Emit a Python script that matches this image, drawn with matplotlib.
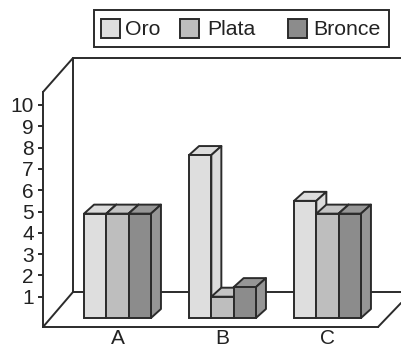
import matplotlib
matplotlib.use('Agg')
import matplotlib.pyplot as plt
from matplotlib.patches import Polygon, Rectangle

plt.rcParams['font.family'] = ['Liberation Sans', 'DejaVu Sans']

# Datos
categorias = ['A', 'B', 'C']
series = ['Oro', 'Plata', 'Bronce']
oro = [4.9, 7.65, 5.5]
plata = [4.9, 1.0, 4.9]
bronce = [4.9, 1.45, 4.9]
marcas_y = [1, 2, 3, 4, 5, 6, 7, 8, 9, 10]

# Colores
colores = ['#dedede', '#bebebe', '#8c8c8c']
laterales = ['#dcdcdc', '#c4c4c4', '#969696']
borde = '#2b2b2b'
lw = 1.4

ANCHO, ALTO = 401, 347
# Escala: pixeles de la imagen <-> unidades de datos
X0, PX_GRUPO = 117.5, 105.0
Y0, PX_UNIDAD = 318.0, 21.3


def dx(px):
    return (px - X0) / PX_GRUPO


def dy(py):
    return (Y0 - py) / PX_UNIDAD


fig = plt.figure(figsize=(ANCHO / 100, ALTO / 100), dpi=100)

# Capa en pixeles para las paredes y la leyenda
capa = fig.add_axes([0, 0, 1, 1])
capa.set_xlim(0, ANCHO)
capa.set_ylim(ALTO, 0)
capa.axis('off')

lineas = [
    ([43, 73], [92, 58]),
    ([73, 401], [58, 58]),
    ([73, 73], [58, 292]),
    ([43, 73], [327, 292]),
    ([73, 401], [292, 292]),
    ([378, 401], [327, 303]),
]
for xs, ys in lineas:
    capa.plot(xs, ys, color=borde, lw=lw, solid_capstyle='round')

# Leyenda a mano porque los huecos no son regulares
capa.add_patch(Rectangle((94, 10), 295, 37, fc='white', ec=borde, lw=lw))
pos_cuadro = [101, 180, 288]
pos_texto = [125, 207, 313]
for nombre, c, xc, xt in zip(series, colores, pos_cuadro, pos_texto):
    capa.add_patch(Rectangle((xc, 19), 19, 19, fc=c, ec=borde, lw=lw))
    capa.text(xt, 29, nombre, fontsize=15.3, color='#222222', va='center', ha='left')

# Ejes de las barras
ax = fig.add_axes([0, 0, 1, 1], facecolor='none')
ax.set_xlim(dx(0), dx(ANCHO))
ax.set_ylim(dy(ALTO), dy(0))

ancho_barra = 22.3 / PX_GRUPO
prof_x = 10 / PX_GRUPO
prof_y = 9 / PX_UNIDAD

for i, valores in enumerate([oro, plata, bronce]):
    for g, v in enumerate(valores):
        x = g + (i - 1) * ancho_barra - ancho_barra / 2
        # Tapa y lateral
        tapa = [(x, v), (x + prof_x, v + prof_y),
                (x + ancho_barra + prof_x, v + prof_y), (x + ancho_barra, v)]
        lado = [(x + ancho_barra, 0), (x + ancho_barra + prof_x, prof_y),
                (x + ancho_barra + prof_x, v + prof_y), (x + ancho_barra, v)]
        ax.add_patch(Polygon(tapa, fc=laterales[i], ec=borde, lw=lw, joinstyle='round', zorder=3))
        ax.add_patch(Polygon(lado, fc=laterales[i], ec=borde, lw=lw, joinstyle='round', zorder=3))
        ax.bar(x, v, ancho_barra, align='edge', color=colores[i], edgecolor=borde, lw=lw, zorder=3)

for lado in ['top', 'right']:
    ax.spines[lado].set_visible(False)
ax.spines['left'].set_position(('data', dx(43)))
ax.spines['left'].set_bounds(dy(327), dy(92))
ax.spines['bottom'].set_position(('data', dy(327)))
ax.spines['bottom'].set_bounds(dx(43), dx(378))
for lado in ['left', 'bottom']:
    ax.spines[lado].set_color(borde)
    ax.spines[lado].set_linewidth(lw)

ax.set_yticks(marcas_y)
ax.set_xticks(range(len(categorias)), categorias)
ax.tick_params(axis='y', length=3.6, width=lw, color=borde, labelsize=15, labelcolor='#222222', pad=3)
ax.tick_params(axis='x', length=0, labelsize=15, labelcolor='#222222', pad=1.5)

fig.savefig('out.png', dpi=100)
